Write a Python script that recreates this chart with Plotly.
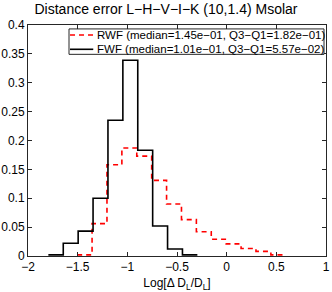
import plotly.graph_objects as go

# FWF histogram: bin edges and probability per bin
fwf_edges = [-1.795, -1.645, -1.495, -1.345, -1.195, -1.045, -0.895, -0.745, -0.595, -0.445, -0.295]
fwf_vals = [0.002, 0.022, 0.043, 0.100, 0.235, 0.339, 0.183, 0.052, 0.012, 0.002]

# RWF histogram
rwf_edges = [-1.505, -1.355, -1.205, -1.055, -0.905, -0.755, -0.605, -0.455, -0.305, -0.155,
             -0.005, 0.145, 0.295, 0.445, 0.595]
rwf_vals = [0.002, 0.056, 0.158, 0.187, 0.173, 0.131, 0.090, 0.063, 0.042, 0.029,
            0.021, 0.013, 0.008, 0.002]

rwf_name = "RWF (median=1.45e\u221201, Q3\u2212Q1=1.82e\u221201)"
fwf_name = "FWF (median=1.01e\u221201, Q3\u2212Q1=5.57e\u221202)"
title = "Distance error L\u2212H\u2212V\u2212I\u2212K (10,1.4) Msolar"

xticks = [-2, -1.5, -1, -0.5, 0, 0.5, 1]
xlabels = ["\u22122", "\u22121.5", "\u22121", "\u22120.5", "0", "0.5", "1"]
yticks = [0, 0.05, 0.1, 0.15, 0.2, 0.25, 0.3, 0.35, 0.4]
ylabels = ["0", "0.05", "0.1", "0.15", "0.2", "0.25", "0.3", "0.35", "0.4"]

rwf_line = dict(color="red", dash="5px,4px", width=1.6)
fwf_line = dict(color="black", width=1.6)

fig = go.Figure()
fig.add_trace(go.Scatter(x=rwf_edges, y=rwf_vals + [rwf_vals[-1]], mode="lines",
                         line=dict(shape="hv", **rwf_line), name=rwf_name, showlegend=False))
fig.add_trace(go.Scatter(x=fwf_edges, y=fwf_vals + [fwf_vals[-1]], mode="lines",
                         line=dict(shape="hv", **fwf_line), name=fwf_name, showlegend=False))

axis_common = dict(showline=True, linecolor="#262626", linewidth=1, mirror="ticks",
                   ticks="inside", ticklen=4, tickcolor="#262626", showgrid=False,
                   zeroline=False, automargin=False, tickfont=dict(size=12, color="black"))
fig.update_xaxes(range=[-2, 1], tickvals=xticks, ticktext=xlabels,
                 title=dict(text="Log[\u0394 D<sub>L</sub>/D<sub>L</sub>]", font=dict(size=12, color="black"),
                            standoff=6),
                 **axis_common)
fig.update_yaxes(range=[0, 0.4], tickvals=yticks, ticktext=ylabels, **axis_common)

# Legend box (MATLAB style, compact), drawn in plot-area (paper) coordinates
leg_x0, leg_x1, leg_y0, leg_y1 = 0.1376, 0.9933, 0.873, 0.983
row_y = [0.9567, 0.8948]
sample_x0, sample_x1, text_x = 0.141, 0.219, 0.2248
fig.add_shape(type="rect", xref="paper", yref="paper", x0=leg_x0, x1=leg_x1, y0=leg_y0, y1=leg_y1,
              line=dict(color="#262626", width=1), fillcolor="white", layer="above")
for name, style, yy in [(rwf_name, rwf_line, row_y[0]), (fwf_name, fwf_line, row_y[1])]:
    fig.add_shape(type="line", xref="paper", yref="paper", x0=sample_x0, x1=sample_x1, y0=yy, y1=yy,
                  line=style, layer="above")
    fig.add_annotation(xref="paper", yref="paper", x=text_x, y=yy, text=name, showarrow=False,
                       xanchor="left", yanchor="middle", font=dict(size=11.5, color="black"))

fig.update_layout(
    template="none",
    width=332, height=292,
    margin=dict(l=28, r=6, t=25, b=36),
    paper_bgcolor="white", plot_bgcolor="white",
    font=dict(family="Liberation Sans, Arial, sans-serif", color="black"),
    title=dict(text=title, x=0.5, xanchor="center", y=0.985, yanchor="top",
               font=dict(size=14, color="black")),
    showlegend=False,
)

fig.write_html("out.html", config={"displayModeBar": False},
               post_script="document.body.style.margin='0';document.body.style.overflow='hidden';")
